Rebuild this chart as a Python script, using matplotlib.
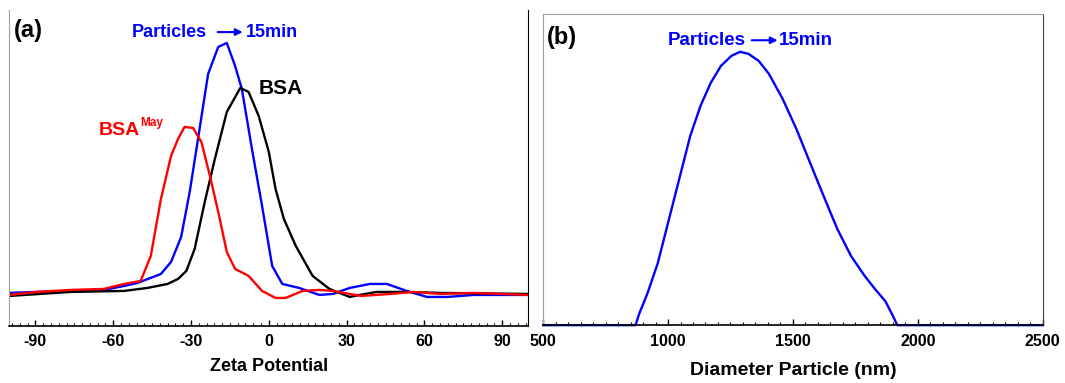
import numpy as np
import matplotlib.pyplot as plt
from matplotlib.ticker import MultipleLocator

plt.rcParams['font.family'] = ['Liberation Sans', 'DejaVu Sans']
plt.rcParams['font.weight'] = 'bold'
plt.rcParams['axes.unicode_minus'] = False

# (a) zeta potential distributions
zeta_blue = [-100, -89.6, -63.6, -55.8, -50.6, -41.6, -37.7, -33.8, -30.5, -27.3, -23.4, -19.5,
             -16.2, -13, -10.4, -6.5, -2.6, 1.3, 5.2, 11.7, 19.5, 24.7, 31.2, 39, 45.5, 53.2,
             61, 68.8, 79, 100]
int_blue = [33, 34, 36, 40, 43, 52, 64, 89, 134, 187, 252, 279,
            283, 260, 237, 177, 120, 60, 42, 38, 31, 32, 38, 42, 42, 35,
            29, 29, 31, 31]

zeta_black = [-100, -76.6, -55.8, -46.8, -39, -35, -31.8, -28.6, -24.7, -20.8, -16.2, -11,
              -7.8, -3.9, 0, 2.6, 5.8, 10.4, 16.9, 23.4, 31.2, 35, 41.6, 53.2, 66.2, 100]
int_black = [30, 34, 35, 38, 42, 47, 55, 77, 124, 167, 214, 238,
             234, 210, 174, 137, 107, 80, 50, 37, 29, 31, 34, 34, 33, 32]

zeta_red = [-100, -89.6, -76.6, -63.6, -55.8, -49.4, -45.5, -41.6, -37.7, -35, -32.5, -29.2,
            -26, -22.7, -19.5, -16.2, -13, -7.8, -2.6, 2.6, 6.5, 13, 19.5, 24.7, 31.2,
            35.7, 46.8, 55.8, 66.2, 79, 100]
int_red = [31, 34, 36, 37, 42, 45, 70, 127, 170, 187, 199, 198,
           184, 150, 114, 74, 57, 50, 35, 28, 28, 35, 36, 35, 32,
           30, 32, 34, 32, 33, 31]

# (b) size distribution
diam = [500, 870, 884, 918, 959, 1007, 1048, 1089, 1130, 1171, 1212, 1254, 1288, 1322,
        1363, 1404, 1459, 1514, 1569, 1623, 1678, 1733, 1788, 1829, 1870, 1897, 1918, 2500]
int_diam = [0, 0, 11, 32, 62, 109, 149, 189, 219, 242, 259, 269, 273, 271,
            264, 251, 226, 196, 162, 129, 96, 69, 49, 36, 24, 11, 0, 0]

blue = '#0000ff'
red = '#ff0000'

fig = plt.figure(figsize=(10.65, 3.83), dpi=100)
ax1 = fig.add_axes([0.0089, 0.149, 0.487, 0.825])
ax2 = fig.add_axes([0.510, 0.151, 0.469, 0.813])

ax1.plot(zeta_blue, int_blue, color=blue, lw=1.7)
ax1.plot(zeta_black, int_black, color='black', lw=1.7)
ax1.plot(zeta_red, int_red, color=red, lw=1.7)
ax1.set_xlim(-100, 100)
ax1.set_ylim(0, 316)
ax1.xaxis.set_major_locator(MultipleLocator(30))
ax1.xaxis.set_minor_locator(MultipleLocator(3))
ax1.set_xlabel('Zeta Potential', fontsize=13, fontweight='bold', labelpad=6)
ax1.spines['top'].set_visible(False)
ax1.spines['left'].set_color('#a0a0a0')

ax2.plot(diam, int_diam, color=blue, lw=1.7, clip_on=False)
ax2.set_xlim(500, 2500)
ax2.set_ylim(0, 311)
ax2.xaxis.set_major_locator(MultipleLocator(500))
ax2.xaxis.set_minor_locator(MultipleLocator(50))
ax2.set_xlabel('Diameter Particle (nm)', fontsize=14, fontweight='bold', labelpad=10)
ax2.spines['top'].set_color('#a0a0a0')
ax2.spines['left'].set_color('#a0a0a0')
ax2.spines['right'].set_color('#404040')

for ax in (ax1, ax2):
    ax.set_yticks([])
    ax.tick_params(axis='x', which='major', direction='in', length=4, width=1,
                   labelsize=11.5, pad=6)
    ax.tick_params(axis='x', which='minor', direction='in', length=2, width=0.8)
    for lab in ax.get_xticklabels():
        lab.set_fontweight('bold')
    ax.spines['bottom'].set_linewidth(1.2)

# panel labels and annotations
ax1.text(0.008, 0.935, '(a)', transform=ax1.transAxes, fontsize=17, fontweight='bold',
         ha='left', va='center')
ax1.text(0.235, 0.93, 'Particles', transform=ax1.transAxes, fontsize=13,
         fontweight='bold', color=blue, ha='left', va='center')
ax1.annotate('', xy=(0.455, 0.93), xytext=(0.396, 0.93), xycoords='axes fraction',
             arrowprops=dict(arrowstyle='-|>', color=blue, lw=1.5, mutation_scale=10))
ax1.text(0.455, 0.93, '15min', transform=ax1.transAxes, fontsize=13,
         fontweight='bold', color=blue, ha='left', va='center')
ax1.text(0.480, 0.75, 'BSA', transform=ax1.transAxes, fontsize=15,
         fontweight='bold', color='black', ha='left', va='center')
ax1.text(0.173, 0.62, 'BSA', transform=ax1.transAxes, fontsize=14,
         fontweight='bold', color=red, ha='left', va='center')
ax1.text(0.252, 0.643, 'May', transform=ax1.transAxes, fontsize=8.5,
         fontweight='bold', color=red, ha='left', va='center')

ax2.text(0.007, 0.925, '(b)', transform=ax2.transAxes, fontsize=17, fontweight='bold',
         ha='left', va='center')
ax2.text(0.25, 0.915, 'Particles', transform=ax2.transAxes, fontsize=13.5,
         fontweight='bold', color=blue, ha='left', va='center')
ax2.annotate('', xy=(0.475, 0.915), xytext=(0.412, 0.915), xycoords='axes fraction',
             arrowprops=dict(arrowstyle='-|>', color=blue, lw=1.5, mutation_scale=10))
ax2.text(0.472, 0.915, '15min', transform=ax2.transAxes, fontsize=13.5,
         fontweight='bold', color=blue, ha='left', va='center')

fig.savefig('out.png', dpi=100)
